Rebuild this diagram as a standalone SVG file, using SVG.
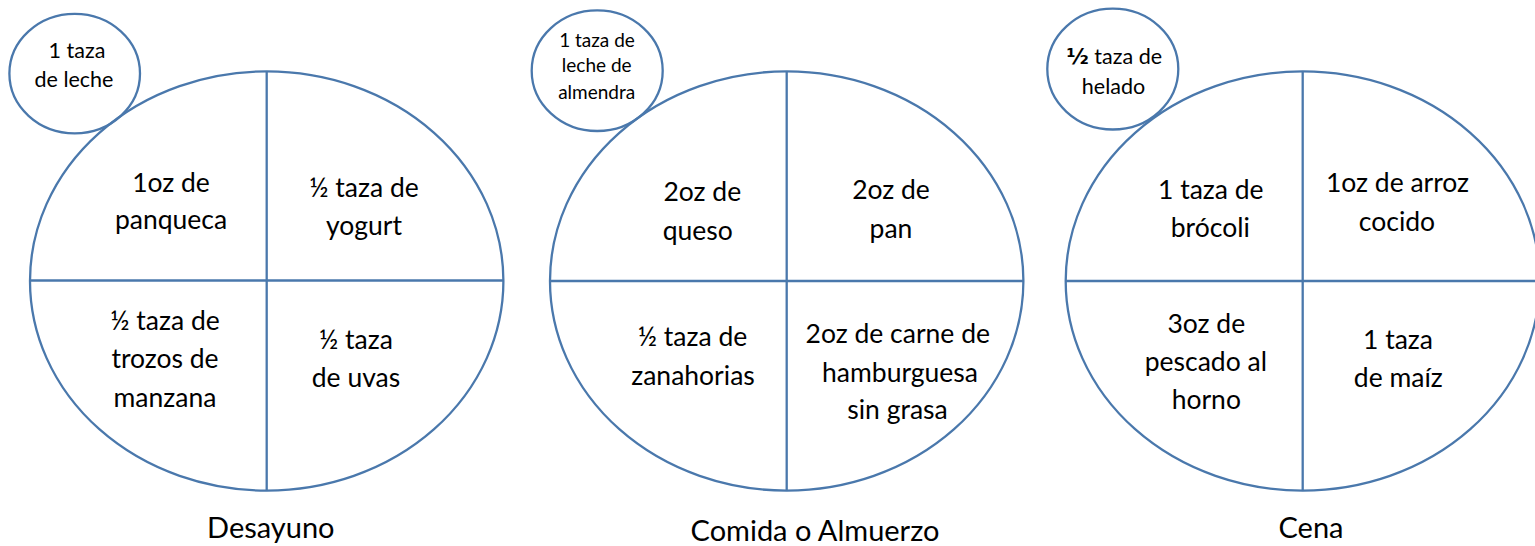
<svg xmlns="http://www.w3.org/2000/svg" width="1535" height="546" viewBox="0 0 1535 546">
<style>
.sh{fill:none;stroke:#4a78ac;stroke-width:2.3}
.t{font-family:Lato,"Open Sans","Liberation Sans",sans-serif;fill:#000;text-anchor:middle}
.m{font-size:26.5px}
.s1{font-size:21.5px}
.s2{font-size:19px}
.lb{font-size:29px}
.half{font-family:"DejaVu Sans",sans-serif;font-weight:bold}
</style>
<rect width="1535" height="546" fill="#fff"/>

<g id="plato-desayuno">
<ellipse class="sh" cx="266.7" cy="281" rx="236.7" ry="209.6"/>
<line class="sh" x1="266.7" y1="71.4" x2="266.7" y2="490.6"/>
<line class="sh" x1="30" y1="280.5" x2="503.4" y2="280.5"/>
<text class="t m" x="171" y="191.5">1oz de</text>
<text class="t m" x="171" y="229">panqueca</text>
<text class="t m" x="364" y="196.7">½ taza de</text>
<text class="t m" x="364" y="235">yogurt</text>
<text class="t m" x="165" y="330">½ taza de</text>
<text class="t m" x="165" y="368.4">trozos de</text>
<text class="t m" x="165" y="406.7">manzana</text>
<text class="t m" x="356" y="349">½ taza</text>
<text class="t m" x="356" y="387">de uvas</text>
</g>
<g id="extra-desayuno">
<ellipse class="sh" cx="74.7" cy="73.6" rx="65.3" ry="59.7"/>
<text class="t s1" x="77" y="57.5">1 taza</text>
<text class="t s1" x="74" y="87">de leche</text>
</g>
<text id="label-desayuno" class="t lb" x="270.8" y="537.7">Desayuno</text>

<g id="plato-comida">
<ellipse class="sh" cx="786.7" cy="281" rx="236.7" ry="209.6"/>
<line class="sh" x1="786.7" y1="71.4" x2="786.7" y2="490.6"/>
<line class="sh" x1="550" y1="281" x2="1023.4" y2="281"/>
<text class="t m" x="702.3" y="201">2oz de</text>
<text class="t m" x="697.7" y="240">queso</text>
<text class="t m" x="891" y="199">2oz de</text>
<text class="t m" x="891" y="237.8">pan</text>
<text class="t m" x="692.5" y="346.4">½ taza de</text>
<text class="t m" x="693" y="384.7">zanahorias</text>
<text class="t m" x="897.8" y="343.3">2oz de carne de</text>
<text class="t m" x="900" y="381.7">hamburguesa</text>
<text class="t m" x="897.5" y="419">sin grasa</text>
</g>
<g id="extra-comida">
<ellipse class="sh" cx="597.2" cy="70.7" rx="65.5" ry="60.3"/>
<text class="t s2" x="597" y="47">1 taza de</text>
<text class="t s2" x="596.7" y="72.4">leche de</text>
<text class="t s2" x="596.7" y="99.2">almendra</text>
</g>
<text id="label-comida" class="t lb" x="815" y="541">Comida o Almuerzo</text>

<g id="plato-cena">
<ellipse class="sh" cx="1302.7" cy="281" rx="237" ry="209.6"/>
<line class="sh" x1="1302.7" y1="71.4" x2="1302.7" y2="490.6"/>
<line class="sh" x1="1065.7" y1="281" x2="1539.7" y2="281"/>
<text class="t m" x="1210.8" y="198.5">1 taza de</text>
<text class="t m" x="1210.3" y="236.8">brócoli</text>
<text class="t m" x="1397.5" y="192.2">1oz de arroz</text>
<text class="t m" x="1397" y="230.5">cocido</text>
<text class="t m" x="1206.3" y="332.5">3oz de</text>
<text class="t m" x="1205.8" y="370.8">pescado al</text>
<text class="t m" x="1206.3" y="409">horno</text>
<text class="t m" x="1398" y="349">1 taza</text>
<text class="t m" x="1398.3" y="387.2">de maíz</text>
</g>
<g id="extra-cena">
<ellipse class="sh" cx="1112.8" cy="69.1" rx="65.5" ry="60.4"/>
<text class="t s1" x="1114.3" y="64.4"><tspan class="half">½</tspan> taza de</text>
<text class="t s1" x="1113.5" y="94">helado</text>
</g>
<text id="label-cena" class="t lb" x="1311" y="537.7">Cena</text>
</svg>
